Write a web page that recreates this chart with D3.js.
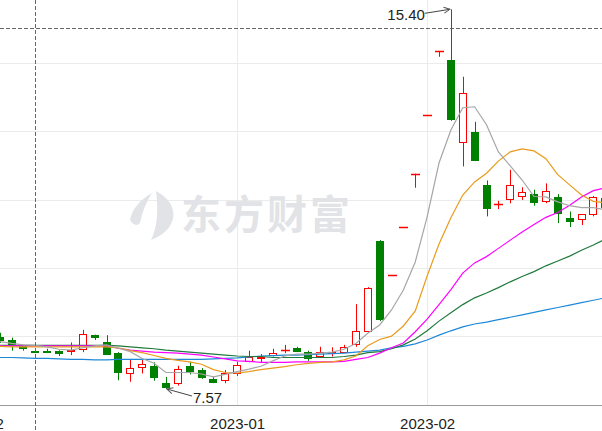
<!DOCTYPE html>
<html>
<head>
<meta charset="utf-8">
<title>K线</title>
<script src="https://d3js.org/d3.v7.min.js"></script>
<style>
	body { margin: 0; background: #fff; }
	svg { display: block; }
</style>
</head>
<body>
<svg width="602" height="431"></svg>
<script type="text/javascript">
// trading days (2022-12 .. 2023-02)
let tradeDays = ["2022-12-01","2022-12-02","2022-12-05","2022-12-06","2022-12-07","2022-12-08","2022-12-09",
	"2022-12-12","2022-12-13","2022-12-14","2022-12-15","2022-12-16","2022-12-19","2022-12-20","2022-12-21",
	"2022-12-22","2022-12-23","2022-12-26","2022-12-27","2022-12-28","2022-12-29","2022-12-30",
	"2023-01-03","2023-01-04","2023-01-05","2023-01-06","2023-01-09","2023-01-10","2023-01-11","2023-01-12",
	"2023-01-13","2023-01-16","2023-01-17","2023-01-18","2023-01-19","2023-01-20","2023-01-30","2023-01-31",
	"2023-02-01","2023-02-02","2023-02-03","2023-02-06","2023-02-07","2023-02-08","2023-02-09","2023-02-10",
	"2023-02-13","2023-02-14","2023-02-15","2023-02-16","2023-02-17","2023-02-20","2023-02-21","2023-02-22"];
let dataDays = tradeDays.slice(2);
let monthTicks = ["2022-12-01","2023-01-03","2023-02-01"];

let opens  = [8.64,8.58,8.46,8.35,8.35,8.35,8.35,8.39,8.68,8.54,8.32,7.91,8.02,8.05,7.70,7.70,8.04,7.96,7.78,7.76,
	7.89,8.14,8.21,8.27,8.37,8.42,8.33,8.25,8.31,8.33,8.50,8.77,10.62,9.93,10.92,12.01,13.21,14.53,14.36,12.66,
	12.87,11.78,11.38,11.48,11.55,11.59,11.45,11.53,11.10,11.07,11.18,11.50];
let highs  = [8.73,8.63,8.48,8.40,8.40,8.37,8.53,8.79,8.69,8.68,8.33,8.18,8.19,8.12,7.82,8.05,8.13,8.00,7.82,7.96,
	8.13,8.36,8.29,8.40,8.48,8.44,8.36,8.44,8.43,8.48,9.32,9.67,10.64,9.93,10.92,12.01,13.21,14.53,15.40,14.01,
	13.08,11.87,11.45,12.09,11.73,11.68,11.81,11.59,11.23,11.18,11.55,11.55];
let lows   = [8.52,8.36,8.36,8.32,8.31,8.25,8.27,8.33,8.58,8.27,7.75,7.72,7.89,7.74,7.57,7.64,7.87,7.78,7.69,7.69,
	7.84,8.12,8.12,8.24,8.31,8.33,8.15,8.22,8.24,8.31,8.44,8.76,8.97,9.93,10.92,11.72,13.21,14.42,13.10,12.16,
	12.27,11.13,11.28,11.40,11.47,11.35,11.40,10.99,10.91,10.95,11.13,11.30];
let closes = [8.58,8.47,8.41,8.34,8.34,8.32,8.37,8.70,8.64,8.30,7.93,8.00,8.09,7.81,7.61,7.98,7.95,7.82,7.72,7.89,
	8.07,8.22,8.22,8.31,8.38,8.35,8.20,8.33,8.34,8.44,8.76,9.65,9.02,9.93,10.92,12.01,13.21,14.53,13.14,13.67,
	12.30,11.31,11.39,11.78,11.64,11.42,11.65,11.20,11.03,11.17,11.53,11.33];

let ma5  = [8.55,8.51,8.48,8.47,8.44,8.39,8.37,8.42,8.46,8.48,8.41,8.34,8.20,8.10,7.91,7.91,7.91,7.88,7.82,7.87,
	7.93,7.98,8.04,8.15,8.25,8.29,8.29,8.31,8.33,8.39,8.51,8.72,8.89,9.20,9.61,10.19,11.12,12.23,12.91,13.37,
	13.39,13.02,12.46,12.17,11.88,11.54,11.53,11.43,11.35,11.31,11.31,11.27];
let ma10 = [8.45,8.44,8.44,8.44,8.44,8.44,8.44,8.44,8.44,8.44,8.42,8.36,8.32,8.26,8.20,8.16,8.13,8.08,7.97,7.91,
	7.90,7.93,7.97,8.00,8.03,8.07,8.10,8.12,8.13,8.17,8.25,8.46,8.59,8.66,8.87,9.18,9.90,10.56,11.10,11.57,
	11.84,12.02,12.27,12.46,12.52,12.48,12.32,11.99,11.78,11.57,11.44,11.41];
let ma20 = [8.46,8.46,8.46,8.46,8.46,8.46,8.46,8.46,8.46,8.46,8.41,8.37,8.35,8.33,8.32,8.31,8.29,8.27,8.23,8.19,
	8.15,8.14,8.12,8.12,8.12,8.13,8.13,8.13,8.13,8.14,8.18,8.22,8.31,8.42,8.52,8.75,9.01,9.31,9.62,9.96,
	10.17,10.30,10.47,10.64,10.81,10.96,11.11,11.21,11.36,11.53,11.66,11.72];
let ma30 = [8.47,8.47,8.47,8.47,8.47,8.47,8.47,8.47,8.47,8.47,8.46,8.44,8.42,8.40,8.37,8.35,8.33,8.31,8.29,8.27,
	8.25,8.24,8.24,8.22,8.22,8.22,8.22,8.22,8.22,8.24,8.27,8.32,8.34,8.40,8.48,8.60,8.77,8.97,9.14,9.31,
	9.45,9.55,9.66,9.78,9.89,9.99,10.11,10.21,10.31,10.43,10.54,10.66];
let ma60 = [8.22,8.22,8.21,8.20,8.20,8.19,8.18,8.18,8.17,8.17,8.18,8.18,8.18,8.18,8.18,8.18,8.18,8.18,8.19,8.20,
	8.21,8.23,8.25,8.26,8.27,8.27,8.28,8.29,8.30,8.31,8.33,8.35,8.37,8.42,8.45,8.50,8.58,8.68,8.77,8.85,
	8.91,8.95,9.00,9.05,9.10,9.15,9.20,9.25,9.30,9.35,9.40,9.45];

let gridPrices = [8.66, 10.07, 11.47, 12.89, 14.30];
let maxMark = {day: "2023-02-03", price: 15.40, label: "15.40"};
let minMark = {day: "2022-12-23", price: 7.57, label: "7.57"};
let cursor  = {day: "2022-12-08", price: 15.02};

let W = 602, H = 431, axisY = 405;
let svg = d3.select("svg");

let x = d3.scalePoint().domain(tradeDays).range([-24.1, 605.25]);
let y = d3.scaleLinear().domain([7.57, 15.40]).range([389, 9.3]);
let px = d => Math.round(x(d)) + 0.5;
let py = v => Math.round(y(v)) + 0.5;

// grid
svg.append("g").selectAll("line").data(gridPrices).enter().append("line")
	.attr("x1", 0).attr("x2", W)
	.attr("y1", d => py(d)).attr("y2", d => py(d))
	.attr("stroke", "#ebebeb").attr("stroke-width", 1);
svg.append("g").selectAll("line").data(monthTicks).enter().append("line")
	.attr("x1", d => px(d)).attr("x2", d => px(d))
	.attr("y1", 0).attr("y2", axisY)
	.attr("stroke", "#ebebeb").attr("stroke-width", 1);
svg.append("line").attr("x1", 0).attr("x2", W).attr("y1", axisY + 0.5).attr("y2", axisY + 0.5)
	.attr("stroke", "#9a9a9a");

// watermark
let wm = svg.append("g").attr("fill", "#e2e3e7");
wm.append("path").attr("d", "M130,220 Q133,204 152,193 Q143,207 140,223 Q135,228 130,220 Z");
wm.append("path").attr("d", "M156,191 Q176,202 173,219 Q169,233 151,240 Q160,222 156,191 Z");
wm.append("text").attr("x", 181).attr("y", 229)
	.attr("font-family", "'Noto Sans CJK SC', sans-serif").attr("font-weight", "bold")
	.attr("font-size", 40).attr("letter-spacing", 3).text("东方财富");

// candles
let candles = dataDays.map((d, i) => ({day: d, o: opens[i], h: highs[i], l: lows[i], c: closes[i]}));
let colorOf = d => d.c >= d.o ? "#ff0000" : "#008000";
let bodyTop = d => Math.round(y(Math.max(d.o, d.c)));
let bodyBot = d => Math.round(y(Math.min(d.o, d.c)));
let cg = svg.append("g").selectAll("g").data(candles).enter().append("g");
cg.append("line")
	.attr("x1", d => px(d.day)).attr("x2", d => px(d.day))
	.attr("y1", d => y(d.h)).attr("y2", d => y(d.l))
	.attr("stroke", colorOf).attr("stroke-width", 1);
cg.filter(d => bodyBot(d) - bodyTop(d) >= 1).append("rect")
	.attr("x", d => Math.round(x(d.day)) - 3.5)
	.attr("width", 7)
	.attr("y", d => bodyTop(d) + 0.5)
	.attr("height", d => bodyBot(d) - bodyTop(d))
	.attr("fill", d => d.c >= d.o ? "#ffffff" : "#008000")
	.attr("stroke", colorOf).attr("stroke-width", 1);
cg.filter(d => bodyBot(d) - bodyTop(d) < 1).append("line")
	.attr("x1", d => Math.round(x(d.day)) - 4).attr("x2", d => Math.round(x(d.day)) + 5)
	.attr("y1", d => bodyTop(d) + 0.5).attr("y2", d => bodyTop(d) + 0.5)
	.attr("stroke", colorOf).attr("stroke-width", 1.5);

// moving averages
let maSeries = [
	{vals: ma60, color: "#1e88d8"},
	{vals: ma30, color: "#1f7a3d"},
	{vals: ma20, color: "#ff00ff"},
	{vals: ma10, color: "#e99b1c"},
	{vals: ma5,  color: "#a6a6a6"}
];
let line = d3.line().x((d, i) => x(dataDays[i])).y(d => y(d));
svg.append("g").selectAll("path").data(maSeries).enter().append("path")
	.attr("d", d => line(d.vals))
	.attr("fill", "none").attr("stroke", d => d.color).attr("stroke-width", 1.2);

// high / low marks
svg.append("defs").append("marker").attr("id", "arr")
	.attr("viewBox", "-7 -4 8 8").attr("refX", 0).attr("refY", 0)
	.attr("markerWidth", 8).attr("markerHeight", 8).attr("markerUnits", "userSpaceOnUse")
	.attr("orient", "auto")
	.append("path").attr("d", "M-6,-3 L0,0 L-6,3").attr("fill", "none").attr("stroke", "#555");

let hx = x(maxMark.day), hy = y(maxMark.price);
svg.append("line").attr("x1", hx - 26).attr("y1", hy + 4).attr("x2", hx - 1).attr("y2", hy)
	.attr("stroke", "#444").attr("marker-end", "url(#arr)");
svg.append("text").attr("x", hx - 26).attr("y", hy + 11).attr("text-anchor", "end")
	.attr("font-family", "Arial, 'Liberation Sans', sans-serif").attr("font-size", 15)
	.attr("fill", "#222").text(maxMark.label);

let lx = x(minMark.day), ly = y(minMark.price);
svg.append("line").attr("x1", lx + 26).attr("y1", ly + 7).attr("x2", lx + 1).attr("y2", ly)
	.attr("stroke", "#444").attr("marker-end", "url(#arr)");
svg.append("text").attr("x", lx + 27).attr("y", ly + 14)
	.attr("font-family", "Arial, 'Liberation Sans', sans-serif").attr("font-size", 15)
	.attr("fill", "#222").text(minMark.label);

// crosshair
svg.append("line").attr("x1", 0).attr("x2", W).attr("y1", py(cursor.price)).attr("y2", py(cursor.price))
	.attr("stroke", "#666").attr("stroke-dasharray", "4,2");
svg.append("line").attr("x1", px(cursor.day)).attr("x2", px(cursor.day)).attr("y1", 0).attr("y2", H)
	.attr("stroke", "#666").attr("stroke-dasharray", "4,2");

// x axis labels
let xAxis = d3.axisBottom(x).tickValues(monthTicks).tickSize(0).tickPadding(13)
	.tickFormat(d => d.slice(0, 7));
let ax = svg.append("g").attr("transform", "translate(0," + axisY + ")").call(xAxis);
ax.select(".domain").remove();
ax.selectAll("text").attr("font-family", "Arial, 'Liberation Sans', sans-serif")
	.attr("font-size", 15).attr("fill", "#222");
</script>
</body>
</html>
